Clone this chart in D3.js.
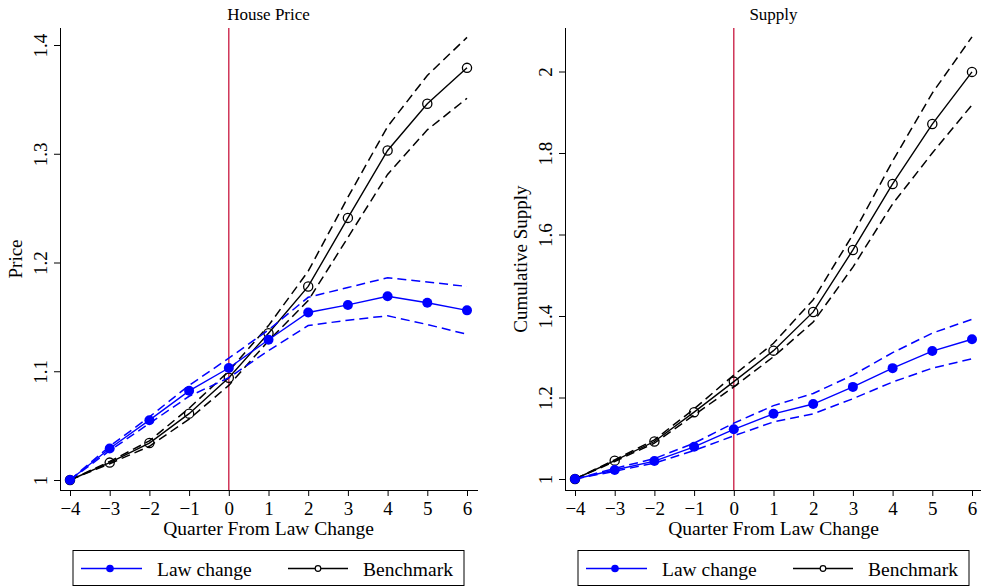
<!DOCTYPE html>
<html>
<head>
<meta charset="utf-8">
<script src="https://cdn.jsdelivr.net/npm/d3@7"></script>
<style>
  body { margin: 0; background: #fff; }
  svg text { font-family: "Liberation Serif", "Times New Roman", "DejaVu Serif", serif; fill: #000; }
</style>
</head>
<body>
<svg id="chart" width="981" height="587"></svg>
<script>
// Quarters relative to the law change
const quarters = [-4, -3, -2, -1, 0, 1, 2, 3, 4, 5, 6];

// House price panel
const priceLaw = [1.0, 1.029, 1.055, 1.082, 1.103, 1.129, 1.154, 1.161, 1.169, 1.163, 1.156];
const priceLawHi = [1.0, 1.031, 1.058, 1.087, 1.112, 1.138, 1.168, 1.177, 1.186, 1.182, 1.178];
const priceLawLo = [1.0, 1.027, 1.052, 1.077, 1.094, 1.119, 1.142, 1.147, 1.151, 1.143, 1.134];
const priceBench = [1.0, 1.016, 1.034, 1.061, 1.094, 1.135, 1.178, 1.241, 1.303, 1.346, 1.379];
const priceBenchHi = [1.0, 1.017, 1.036, 1.066, 1.100, 1.142, 1.192, 1.260, 1.325, 1.372, 1.407];
const priceBenchLo = [1.0, 1.015, 1.031, 1.056, 1.087, 1.128, 1.165, 1.223, 1.281, 1.322, 1.351];
const priceTicks = [1, 1.1, 1.2, 1.3, 1.4];

// Supply panel
const supplyLaw = [1.0, 1.022, 1.044, 1.079, 1.122, 1.160, 1.184, 1.226, 1.272, 1.314, 1.343];
const supplyLawHi = [1.0, 1.026, 1.050, 1.088, 1.137, 1.180, 1.210, 1.255, 1.310, 1.358, 1.392];
const supplyLawLo = [1.0, 1.019, 1.039, 1.070, 1.106, 1.140, 1.160, 1.197, 1.238, 1.272, 1.295];
const supplyBench = [1.0, 1.045, 1.092, 1.164, 1.239, 1.315, 1.410, 1.562, 1.724, 1.871, 1.999];
const supplyBenchHi = [1.0, 1.047, 1.096, 1.172, 1.255, 1.333, 1.440, 1.600, 1.780, 1.947, 2.085];
const supplyBenchLo = [1.0, 1.043, 1.088, 1.157, 1.226, 1.300, 1.385, 1.520, 1.675, 1.800, 1.918];
const supplyTicks = [1, 1.2, 1.4, 1.6, 1.8, 2];

const BLUE = '#0000ff';
const RED = '#c8173f';
const SERIF = '"Liberation Serif", "Times New Roman", "DejaVu Serif", serif';

// Stata style tick labels: 1, 1.1, 1.2 ... 2
const tickFmt = d => String(+d.toFixed(1));

const svg = d3.select('#chart');

const panels = [
  {
    title: 'House Price', yTitle: 'Price', left: 60, right: 478, yTitleX: 22,
    domainY: [1, 1.4], rangeY: [480, 45], ticks: priceTicks,
    law: [priceLaw, priceLawHi, priceLawLo], bench: [priceBench, priceBenchHi, priceBenchLo]
  },
  {
    title: 'Supply', yTitle: 'Cumulative Supply', left: 565, right: 981, yTitleX: 527,
    domainY: [1, 2], rangeY: [479, 71.5], ticks: supplyTicks,
    law: [supplyLaw, supplyLawHi, supplyLawLo], bench: [supplyBench, supplyBenchHi, supplyBenchLo]
  }
];

panels.forEach((p) => {
  const g = svg.append('g');
  const x = d3.scaleLinear().domain([-4, 6]).range([p.left + 10, p.left + 407]);
  const y = d3.scaleLinear().domain(p.domainY).range(p.rangeY);
  const axisBottom = 490;
  const top = 28;

  // Title
  g.append('text').attr('x', x(1)).attr('y', 20)
    .attr('text-anchor', 'middle').style('font-size', '17px').text(p.title);

  // Vertical law change line
  g.append('line')
    .attr('x1', x(0)).attr('x2', x(0))
    .attr('y1', top).attr('y2', axisBottom)
    .attr('stroke', RED).attr('stroke-width', 1.3);

  // Axes
  const xAxis = d3.axisBottom(x).tickValues(quarters)
    .tickFormat(d => (d < 0 ? '\u2212' + Math.abs(d) : d)).tickSize(6).tickSizeOuter(0);
  const gx = g.append('g').attr('transform', `translate(0,${axisBottom})`).call(xAxis);
  gx.attr('font-family', SERIF);
  gx.select('.domain').attr('d', `M${p.left},0.5H${p.right}`);
  gx.selectAll('text').style('font-size', '19px').style('font-family', SERIF)
    .attr('y', 0).attr('dy', 25);

  const yAxis = d3.axisLeft(y).tickValues(p.ticks).tickFormat(tickFmt).tickSize(6).tickSizeOuter(0);
  const gy = g.append('g').attr('transform', `translate(${p.left},0)`).call(yAxis);
  gy.attr('font-family', SERIF);
  gy.select('.domain').attr('d', `M0.5,${top}V${axisBottom}`);
  gy.selectAll('text')
    .style('font-size', '19px').style('font-family', SERIF)
    .attr('text-anchor', 'middle')
    .attr('transform', 'translate(-13,0) rotate(-90)')
    .attr('x', 0).attr('y', 0).attr('dy', 0);

  // Axis titles
  g.append('text').attr('x', x(1)).attr('y', 535)
    .attr('text-anchor', 'middle').style('font-size', '19.5px').text('Quarter From Law Change');
  g.append('text').attr('transform', `translate(${p.yTitleX},${(top + axisBottom) / 2}) rotate(-90)`)
    .attr('text-anchor', 'middle').style('font-size', '19px').text(p.yTitle);

  const line = d3.line().x((d, i) => x(quarters[i])).y(d => y(d));

  // Series: confidence bands dashed, point estimates solid with markers
  const drawSeries = (vals, color, filled) => {
    [vals[1], vals[2]].forEach((band) => {
      g.append('path').datum(band).attr('d', line)
        .attr('fill', 'none').attr('stroke', color).attr('stroke-width', 1.5)
        .attr('stroke-dasharray', '9,5');
    });
    g.append('path').datum(vals[0]).attr('d', line)
      .attr('fill', 'none').attr('stroke', color).attr('stroke-width', 1.4);
    g.selectAll(null).data(vals[0]).enter().append('circle')
      .attr('cx', (d, i) => x(quarters[i])).attr('cy', d => y(d))
      .attr('r', filled ? 5 : 4.6)
      .attr('fill', filled ? color : 'none')
      .attr('stroke', color).attr('stroke-width', filled ? 0 : 1.3);
  };
  drawSeries(p.bench, '#000', false);
  drawSeries(p.law, BLUE, true);

  // Legend
  const lx = x(-4) + 3;
  const lg = g.append('g').attr('transform', `translate(${lx},550.5)`);
  lg.append('rect').attr('width', 391).attr('height', 35)
    .attr('fill', '#fff').attr('stroke', '#000').attr('stroke-width', 1);
  lg.append('line').attr('x1', 8).attr('x2', 69).attr('y1', 18).attr('y2', 18)
    .attr('stroke', BLUE).attr('stroke-width', 1.4);
  lg.append('circle').attr('cx', 37).attr('cy', 18).attr('r', 3.8).attr('fill', BLUE);
  lg.append('text').attr('x', 84).attr('y', 25).style('font-size', '19.5px').text('Law change');
  lg.append('line').attr('x1', 215).attr('x2', 275).attr('y1', 18).attr('y2', 18)
    .attr('stroke', '#000').attr('stroke-width', 1.4);
  lg.append('circle').attr('cx', 245).attr('cy', 18).attr('r', 2.8)
    .attr('fill', '#fff').attr('stroke', '#000').attr('stroke-width', 1.2);
  lg.append('text').attr('x', 290).attr('y', 25).style('font-size', '19.5px').text('Benchmark');
});
</script>
</body>
</html>
